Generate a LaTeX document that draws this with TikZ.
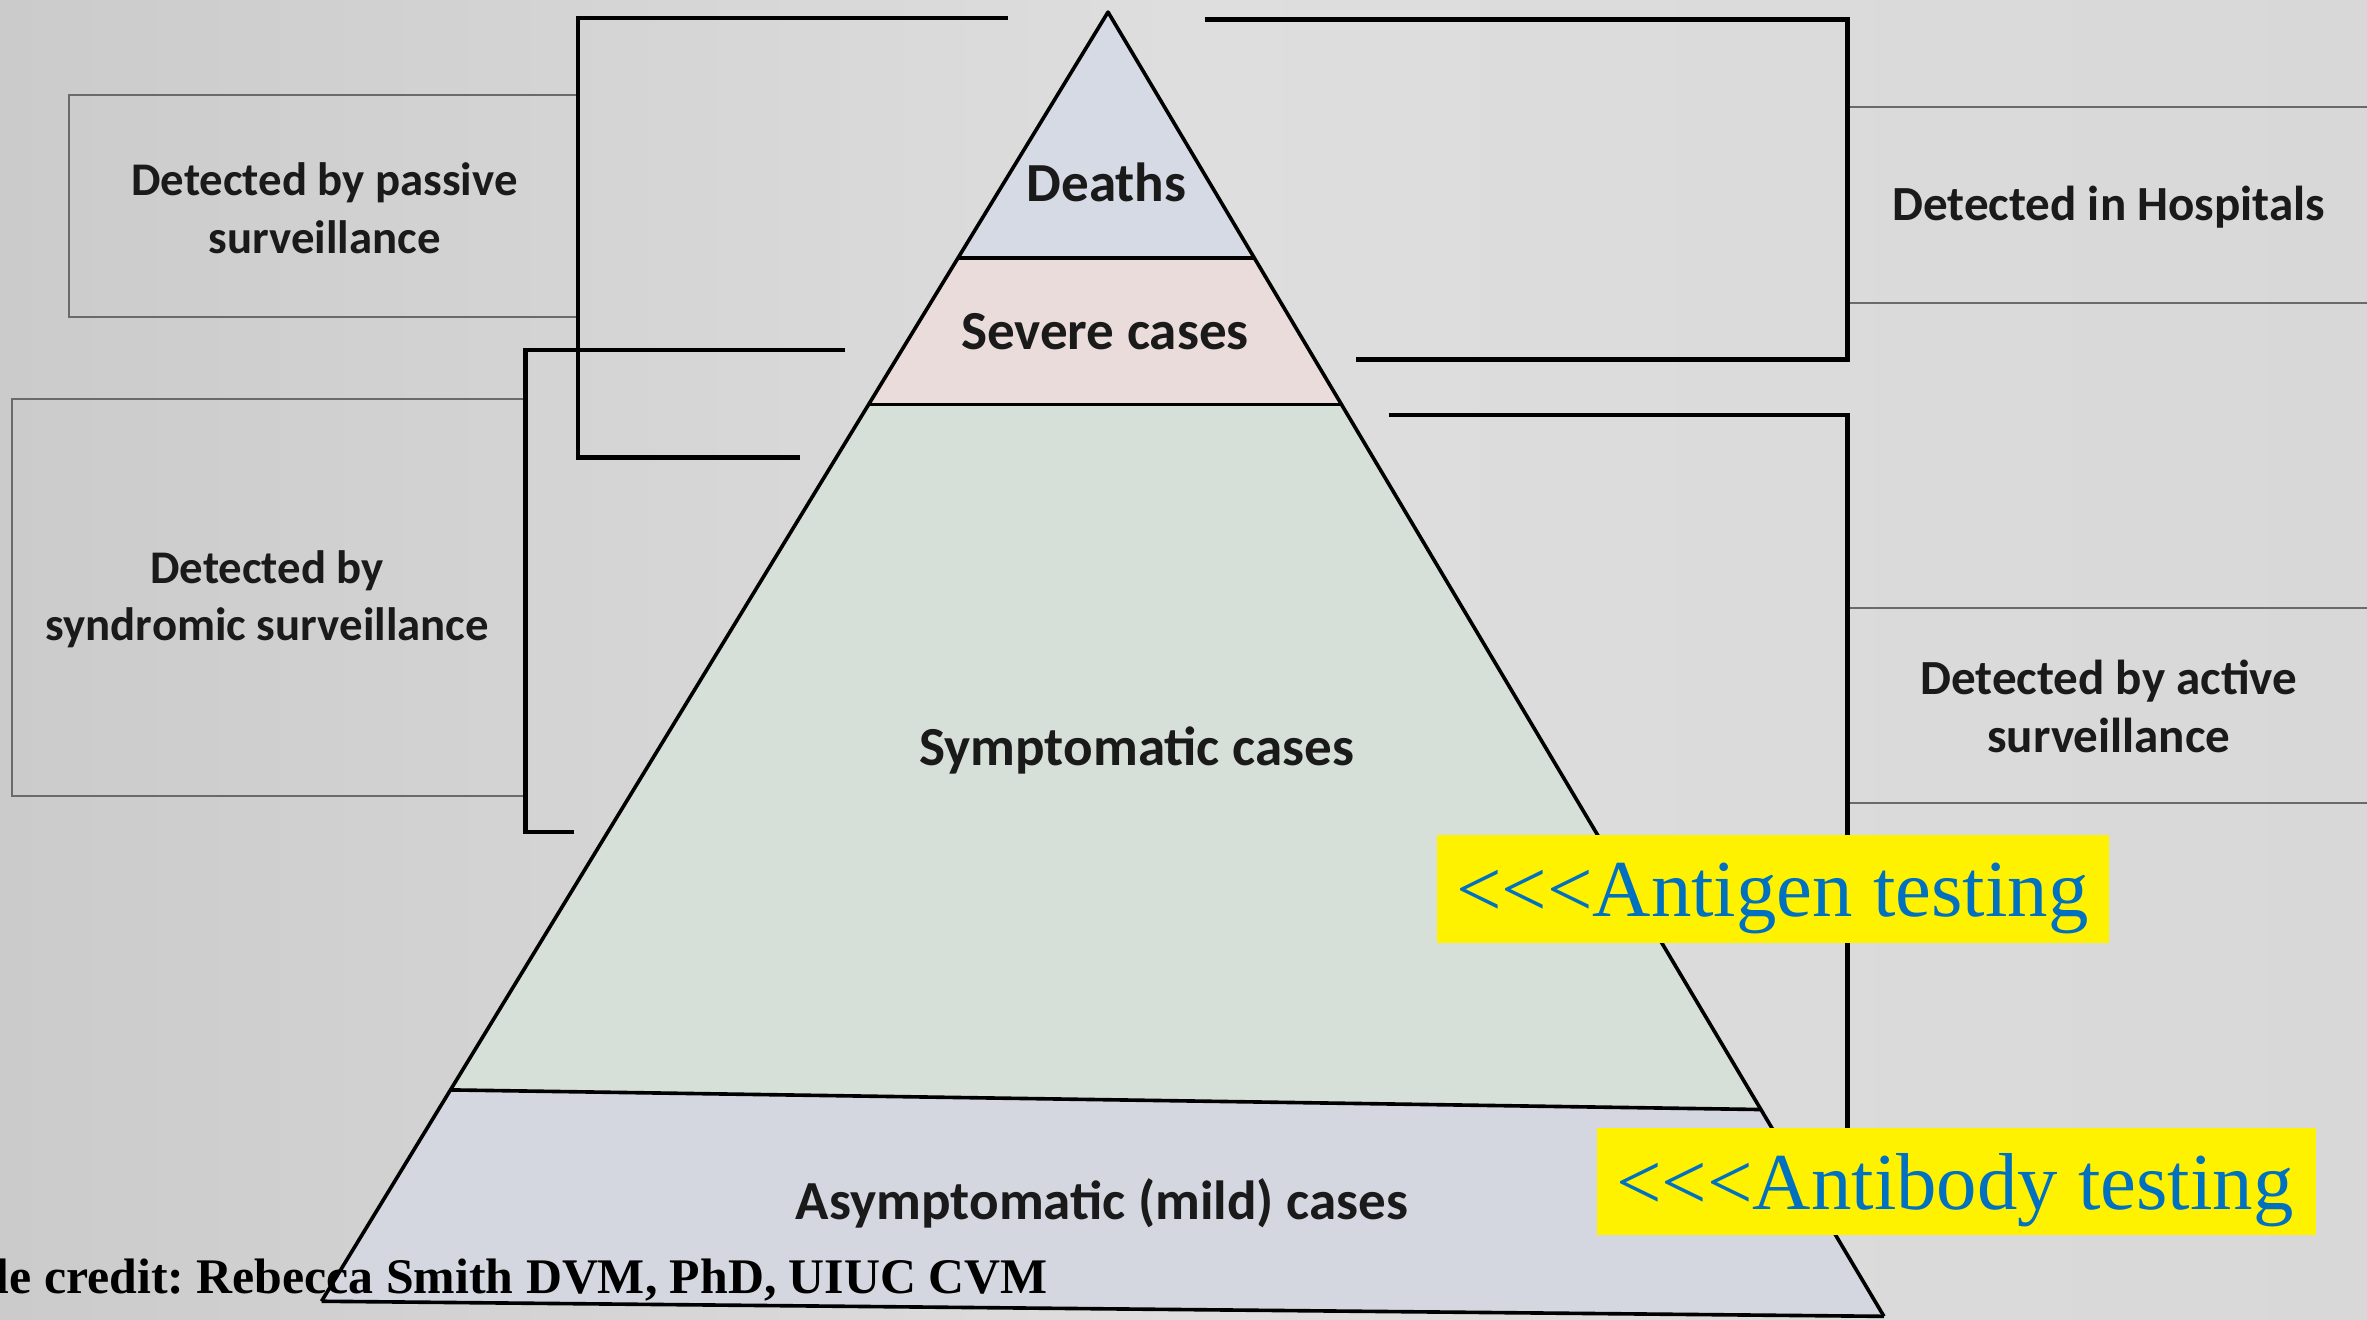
\documentclass[tikz,border=0pt]{standalone}
\usepackage{fontspec}
\setmainfont{Carlito}
\newfontfamily\timesf{Liberation Serif}
\definecolor{bgL}{HTML}{CBCBCB}
\definecolor{bgM}{HTML}{DEDEDE}
\definecolor{bgR}{HTML}{D8D8D8}
\definecolor{deathC}{HTML}{D6DAE4}
\definecolor{sevC}{HTML}{EADCDA}
\definecolor{symC}{HTML}{D6E0D8}
\definecolor{asymC}{HTML}{D4D6E0}
\definecolor{boxline}{HTML}{6A6A6A}
\definecolor{testblue}{HTML}{0070C0}
\definecolor{txt}{HTML}{1A1A1A}
\tikzset{
  bracketline/.style={line width=3pt, black},
  boxedge/.style={line width=1.3pt, boxline},
  pyredge/.style={line width=2.4pt, black, line join=round},
  lbl/.style={inner sep=0pt, align=center, text=txt, font=\bfseries\fontsize{31}{38}\selectfont},
  rlbl/.style={inner sep=0pt, align=center, text=txt, font=\bfseries\fontsize{32.5}{39}\selectfont},
  pyrlbl/.style={inner sep=0pt, align=center, text=txt, font=\bfseries\fontsize{36.5}{44}\selectfont},
  testtext/.style={anchor=base, inner sep=0pt, font=\timesf\fontsize{53.5}{60}\selectfont, text=testblue},
}
\begin{document}
\frenchspacing
\begin{tikzpicture}[x=1pt,y=-1pt]
\useasboundingbox (0,0) rectangle (1568,874);
\shade[left color=bgL, right color=bgR, middle color=bgM] (0,0) rectangle (1568,874);

% label boxes
\draw[boxedge] (383,63) -- (46,63) -- (46,210) -- (383,210);
\draw[boxedge] (348,264) -- (8,264) -- (8,527) -- (348,527);
\draw[boxedge] (1224,71) -- (1570,71);
\draw[boxedge] (1224,201) -- (1570,201);
\draw[boxedge] (1224,403) -- (1570,403);
\draw[boxedge] (1224,532) -- (1570,532);

% pyramid layers
\coordinate (apex) at (734,8);
\coordinate (dL) at (634.6,171); \coordinate (dR) at (831,171);
\coordinate (sL) at (575.4,268); \coordinate (sR) at (888.7,268);
\coordinate (mL) at (298.4,722); \coordinate (mR) at (1166.5,735);
\coordinate (bL) at (213,862);  \coordinate (bR) at (1248,872);
\fill[deathC] (apex) -- (dR) -- (dL) -- cycle;
\fill[sevC] (dL) -- (dR) -- (sR) -- (sL) -- cycle;
\fill[symC] (sL) -- (sR) -- (mR) -- (mL) -- cycle;
\fill[asymC] (mL) -- (mR) -- (bR) -- (bL) -- cycle;
\draw[pyredge] (dL) -- (dR);
\draw[pyredge] (sL) -- (sR);
\draw[pyredge] (mL) -- (mR);
\draw[pyredge] (bL) -- (bR);
\draw[pyredge] (bL) -- (apex) -- (bR);

% brackets
\draw[bracketline] (668,12) -- (383,12) -- (383,303) -- (530,303);
\draw[bracketline] (560,232) -- (348,232) -- (348,551) -- (380,551);
\draw[bracketline] (798,13) -- (1224,13) -- (1224,238) -- (898,238);
\draw[bracketline] (920,275) -- (1224,275) -- (1224,765);

% labels
\node[lbl] (passive) at (215,138) {Detected by passive\\surveillance};
\node[lbl] (syndromic) at (177,397) {Detected by\\syndromic surveillance};
\node[rlbl] (hosp) at (1397,137) {Detected in Hospitals};
\node[rlbl] (active) at (1397,468) {Detected by active\\surveillance};
\node[pyrlbl] (deaths) at (733,121) {Deaths};
\node[pyrlbl] (severe) at (732,220) {Severe cases};
\node[pyrlbl] (sympt) at (753,497) {Symptomatic cases};
\node[pyrlbl] (asympt) at (730,797) {Asymptomatic (mild) cases};

% testing boxes
\fill[yellow] (952,553) rectangle (1397,625);
\node[testtext] (antigen) at (1174,607) {<<<Antigen testing};
\fill[yellow] (1058,747) rectangle (1534,818);
\node[testtext] (antibody) at (1295,801) {<<<Antibody testing};

% credit
\node[anchor=base west, inner sep=0pt, font=\timesf\bfseries\fontsize{33}{40}\selectfont] (credit) at (-3,857) {le credit: Rebecca Smith DVM, PhD, UIUC CVM};
\end{tikzpicture}
\end{document}
